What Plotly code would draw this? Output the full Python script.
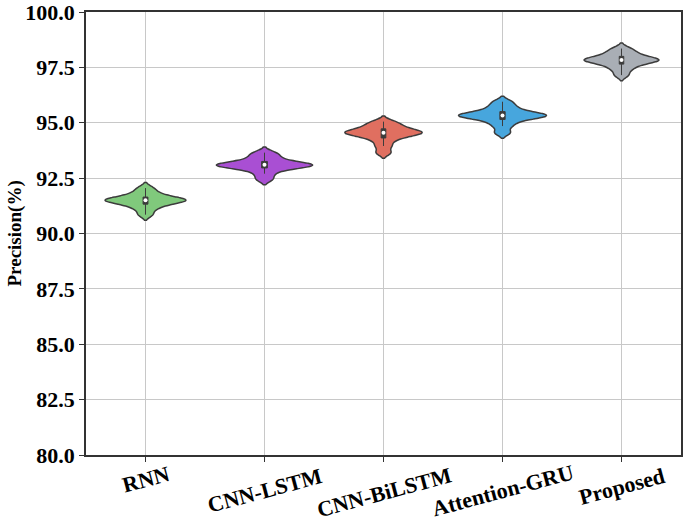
import plotly.graph_objects as go

models = ['RNN', 'CNN-LSTM', 'CNN-BiLSTM', 'Attention-GRU', 'Proposed']
colors = ['#80c97c', '#a94fd3', '#e06f60', '#47a6dd', '#a9aeb5']

# precision samples (%) per model
rnn = [90.85, 91.1, 91.25, 91.35, 91.42, 91.48, 91.5, 91.52, 91.56, 91.62, 91.72, 91.85, 92.05]
cnn_lstm = [92.45, 92.7, 92.9, 92.98, 93.03, 93.07, 93.1, 93.12, 93.16, 93.22, 93.35, 93.5, 93.65]
cnn_bilstm = [93.65, 93.95, 94.2, 94.35, 94.45, 94.5, 94.55, 94.58, 94.62, 94.7, 94.8, 94.92, 95.05]
att_gru = [94.55, 94.85, 95.05, 95.18, 95.25, 95.3, 95.33, 95.36, 95.4, 95.47, 95.6, 95.75, 95.95]
proposed = [97.15, 97.4, 97.55, 97.68, 97.75, 97.8, 97.83, 97.86, 97.9, 97.97, 98.08, 98.2, 98.35]
samples = [rnn, cnn_lstm, cnn_bilstm, att_gru, proposed]

# styling: violin widths (category units) and label drop below axis (px)
violin_w = [0.68, 0.81, 0.65, 0.74, 0.63]
label_drop = [24, 35, 37, 35, 31]

fig = go.Figure()
for name, vals, col, w in zip(models, samples, colors, violin_w):
    fig.add_trace(go.Violin(
        x=[name] * len(vals),
        y=vals,
        name=name,
        fillcolor=col,
        opacity=1,
        line=dict(color='#3c3c3c', width=1.5),
        bandwidth=0.13,
        spanmode='manual',
        span=[min(vals) - 0.25, max(vals) + 0.25],
        width=w,
        scalemode='width',
        points=False,
        box=dict(visible=True, width=0.06, fillcolor='#3c3c3c',
                 line=dict(color='#3c3c3c', width=1)),
        meanline=dict(visible=False),
        showlegend=False,
        hoverinfo='y',
    ))
    med = sorted(vals)[len(vals) // 2]
    fig.add_trace(go.Scatter(
        x=[name], y=[med], mode='markers',
        marker=dict(color='white', size=4, line=dict(width=0)),
        showlegend=False, hoverinfo='skip',
    ))

# rotated, centred category labels under each tick
for name, drop in zip(models, label_drop):
    fig.add_annotation(
        x=name, y=0, xref='x', yref='paper',
        text='<b>' + name + '</b>', showarrow=False,
        textangle=-15, xanchor='center', yanchor='middle', yshift=-drop,
        font=dict(family='Liberation Serif', size=22, color='black'),
    )

fig.add_annotation(
    x=0, y=0.5, xref='paper', yref='paper',
    text='<b>Precision(%)</b>', showarrow=False, textangle=-90,
    xanchor='center', yanchor='middle', xshift=-72,
    font=dict(family='Liberation Serif', size=19, color='black'),
)

fig.update_layout(
    width=685,
    height=521,
    margin=dict(l=86, r=4, t=12, b=66),
    plot_bgcolor='white',
    paper_bgcolor='white',
    font=dict(family='Liberation Serif', color='black'),
)
fig.update_xaxes(
    categoryorder='array', categoryarray=models,
    range=[-0.5, 4.5],
    showticklabels=False, automargin=False,
    showgrid=True, gridcolor='#c8c8c8', gridwidth=1,
    ticks='outside', ticklen=5, tickcolor='#333333',
    showline=True, linecolor='#333333', linewidth=1.5, mirror=True,
)
fig.update_yaxes(
    range=[80, 100], automargin=False,
    tickvals=[80, 82.5, 85, 87.5, 90, 92.5, 95, 97.5, 100],
    tickformat='.1f', ticklabeloverflow='allow',
    tickfont=dict(family='Liberation Serif', size=22, color='black', weight='bold'),
    showgrid=True, gridcolor='#c8c8c8', gridwidth=1,
    ticks='outside', ticklen=5, tickcolor='#333333',
    showline=True, linecolor='#333333', linewidth=1.5, mirror=True,
    zeroline=False,
)

fig.write_html("out.html", config={'displayModeBar': False},
               post_script="document.body.style.margin='0';")
